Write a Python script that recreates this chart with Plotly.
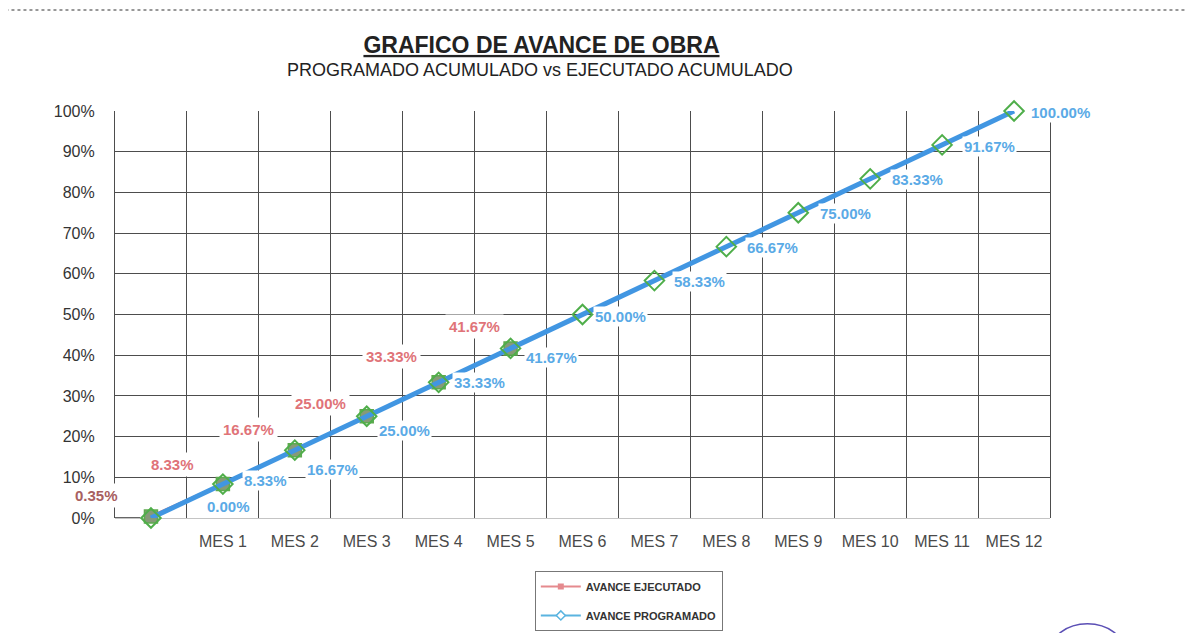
import plotly.graph_objects as go

# datos
meses = ["", "MES 1", "MES 2", "MES 3", "MES 4", "MES 5", "MES 6",
         "MES 7", "MES 8", "MES 9", "MES 10", "MES 11", "MES 12"]
programado = [0.00, 8.33, 16.67, 25.00, 33.33, 41.67, 50.00,
              58.33, 66.67, 75.00, 83.33, 91.67, 100.00]
ejecutado = [0.35, 8.33, 16.67, 25.00, 33.33, 41.67]
y_ticks = [0, 10, 20, 30, 40, 50, 60, 70, 80, 90, 100]

# desplazamiento de etiquetas (px)
prog_dx = [78, 43, 38, 38, 41, 41, 38, 45, 46, 47, 47, 47, 46]
prog_dy = [12, 4, -19, -14, 0, -9, -2, -1, -1, -1, -1, -2, -1]
ejec_dx = [-54, -50, -46, -46, -47, -36]
ejec_dy = [21, 20, 21, 13, 26, 22]

x_prog = list(range(len(programado)))
x_ejec = list(range(len(ejecutado)))

ROJO = "#e07378"
AZUL = "#5aaae6"
GRID = "#4d4d4d"
SANS = "Liberation Sans, Arial, sans-serif"

fig = go.Figure()

fig.add_trace(go.Scatter(
    x=x_ejec, y=ejecutado, mode="lines+markers", showlegend=False,
    line=dict(color=ROJO, width=3),
    marker=dict(symbol="square", size=13, color="#869a78",
                line=dict(color="#5faa4f", width=1.5)),
    cliponaxis=False, hoverinfo="skip",
))
fig.add_trace(go.Scatter(
    x=x_prog, y=programado, mode="lines+markers", showlegend=False,
    line=dict(color="#4196e2", width=5),
    marker=dict(symbol="diamond", size=15, color="rgba(0,0,0,0)",
                line=dict(color="#4fae4a", width=2)),
    cliponaxis=False, hoverinfo="skip",
))

# entradas de leyenda
fig.add_trace(go.Scatter(
    x=[None], y=[None], mode="lines+markers", name="AVANCE EJECUTADO",
    legendgroup="e", line=dict(color="#e58a8e", width=2),
    marker=dict(symbol="square", size=6, color="#e58a8e"),
))
fig.add_trace(go.Scatter(
    x=[None], y=[None], mode="lines+markers", name="AVANCE PROGRAMADO",
    legendgroup="p", line=dict(color="#5ab4e0", width=2),
    marker=dict(symbol="diamond", size=7, color="white",
                line=dict(color="#5ab4e0", width=1.5)),
))

for i, v in enumerate(ejecutado):
    fig.add_annotation(
        x=x_ejec[i], y=v, text=f"<b>{v:.2f}%</b>", showarrow=False,
        xshift=ejec_dx[i], yshift=ejec_dy[i], bgcolor="white", borderpad=3,
        font=dict(family=SANS, size=15, color="#a8605f" if i == 0 else ROJO),
    )
for i, v in enumerate(programado):
    fig.add_annotation(
        x=x_prog[i], y=v, text=f"<b>{v:.2f}%</b>", showarrow=False,
        xshift=prog_dx[i], yshift=prog_dy[i], bgcolor="white", borderpad=1,
        font=dict(family=SANS, size=15, color=AZUL),
    )

# subtitulo
fig.add_annotation(
    xref="paper", yref="paper", x=0.4545, y=1.1, yanchor="middle",
    showarrow=False,
    text="PROGRAMADO ACUMULADO vs EJECUTADO ACUMULADO",
    font=dict(family=SANS, size=18, color="#222"),
)

# detalles del escaneo
fig.add_shape(type="line", xref="paper", yref="paper", x0=-0.13, x1=1.16,
              y0=1.248, y1=1.248, line=dict(color="#777", width=1.5, dash="dot"))
fig.add_shape(type="line", xref="x", yref="y", x0=-0.5, x1=-0.15, y0=0, y1=0,
              line=dict(color="#333", width=1.5))
fig.add_shape(type="circle", xref="paper", yref="paper", x0=1.0, x1=1.08,
              y0=-0.26, y1=-0.40, line=dict(color="#5b4fb5", width=1.5))

# la pagina deja 8 px de margen: figura algo menor
fig.update_layout(
    width=1185, height=625,
    margin=dict(l=107, r=143, t=103, b=115, autoexpand=False),
    paper_bgcolor="white", plot_bgcolor="white",
    title=dict(
        text="<b>GRAFICO DE AVANCE DE OBRA</b>",
        xref="container", yref="container", x=0.4502, y=0.941,
        xanchor="center", yanchor="middle",
        font=dict(family=SANS, size=23, color="#222", lineposition="under"),
    ),
    legend=dict(
        x=0.449, y=-0.13, xanchor="left", yanchor="top",
        bordercolor="#777", borderwidth=1, bgcolor="white",
        traceorder="grouped", tracegroupgap=10, itemwidth=40,
        font=dict(family=SANS, size=11, color="#333", weight="bold"),
    ),
)

fig.update_xaxes(
    range=[-0.5, len(meses) - 0.5],
    tickmode="array", tickvals=x_prog, ticktext=meses,
    showgrid=False, zeroline=False, showline=False, ticks="",
    ticklabelstandoff=12,
    tickfont=dict(family=SANS, size=16, color="#4a4a4a"),
    minor=dict(tickmode="array",
               tickvals=[i - 0.5 for i in range(len(meses) + 1)],
               showgrid=True, gridcolor=GRID, gridwidth=1.2, ticks=""),
)
fig.update_yaxes(
    range=[0, 100], tickmode="array", tickvals=y_ticks,
    ticktext=[f"{t}%" for t in y_ticks],
    showgrid=True, gridcolor=GRID, gridwidth=1.2,
    zeroline=True, zerolinecolor="#c4c4c4", zerolinewidth=1.2,
    showline=True, mirror=True, linecolor=GRID, linewidth=1.2,
    ticks="", ticklabelstandoff=16,
    tickfont=dict(family=SANS, size=16, color="#333"),
)

fig.write_html("out.html")
